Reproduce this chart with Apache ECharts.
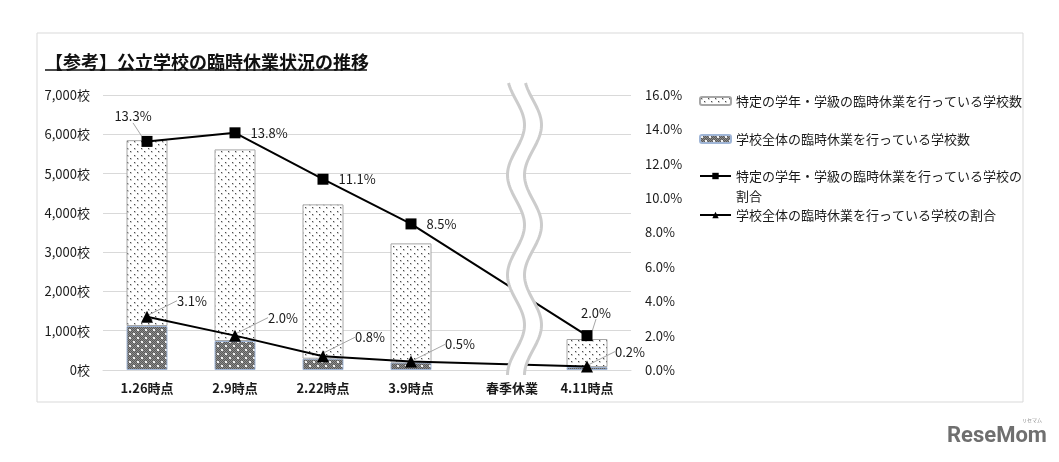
<!DOCTYPE html>
<html>
<head>
<meta charset="utf-8">
<script src="https://cdn.jsdelivr.net/npm/echarts@6/dist/echarts.min.js"></script>
<style>
html,body{margin:0;padding:0;background:#fff;}
#chart{width:1059px;height:462px;}
</style>
</head>
<body>
<div id="chart"></div>
<script>
// ---- data ----
const categories = ['1.26時点', '2.9時点', '2.22時点', '3.9時点', '春季休業', '4.11時点'];
const wholeSchoolCount = [1120, 738, 288, 190, null, 75];
const partialSchoolCount = [4730, 4877, 3928, 3033, null, 714];
const partialRate = [13.3, 13.8, 11.1, 8.5, null, 2.0];
const wholeRate = [3.1, 2.0, 0.8, 0.5, null, 0.2];
const countAxisMax = 7000, countAxisStep = 1000;
const rateAxisMax = 16, rateAxisStep = 2;

const nameP = '特定の学年・学級の臨時休業を行っている学校数';
const nameW = '学校全体の臨時休業を行っている学校数';
const nameRP = '特定の学年・学級の臨時休業を行っている学校の割合';
const nameRW = '学校全体の臨時休業を行っている学校の割合';

// label layout offsets (style, not data)
const sqOffsets = [[-14, -5], [2, 0], [2, 0], [2, 0], null, [9, -3]];
const sqPos = ['top', 'right', 'right', 'right', 'right', 'top'];
const sqGuide = [true, false, false, false, false, true];
const triOffsets = [[19, -16], [22, -18], [21, -19], [23, -17], null, [17, -15]];

const FONT = '"Noto Sans CJK JP", "Noto Sans", sans-serif';
const TXT = '#1a1a1a';

function dotPattern() {
  const c = document.createElement('canvas');
  c.width = 7; c.height = 7;
  const g = c.getContext('2d');
  g.fillStyle = '#ffffff'; g.fillRect(0, 0, 7, 7);
  g.fillStyle = '#d0d0d0';
  g.fillRect(1, 1, 2, 2);
  g.fillRect(4, 4, 2, 2);
  g.fillStyle = '#4a4a4a';
  g.fillRect(1, 1, 1, 1);
  g.fillRect(4, 4, 1, 1);
  return c;
}
function darkPattern() {
  const c = document.createElement('canvas');
  c.width = 8; c.height = 8;
  const g = c.getContext('2d');
  for (let x = 0; x < 8; x++) for (let y = 0; y < 8; y++) {
    g.fillStyle = ((x + y) % 2 === 0) ? '#595959' : '#8c8c8c';
    g.fillRect(x, y, 1, 1);
  }
  g.fillStyle = '#f2f2f2';
  g.fillRect(1, 1, 2, 2);
  g.fillRect(5, 5, 2, 2);
  return c;
}

const chart = echarts.init(document.getElementById('chart'), null, {renderer: 'canvas'});

const legendBase = {
  orient: 'vertical', left: 694, itemWidth: 31, itemHeight: 8, itemGap: 10,
  selectedMode: false,
  textStyle: {fontFamily: FONT, fontSize: 13, color: TXT, lineHeight: 20}
};

const option = {
  backgroundColor: '#fff',
  animation: false,
  textStyle: {fontFamily: FONT},
  title: {
    text: '【参考】公立学校の臨時休業状況の推移',
    left: 40, top: 48,
    textStyle: {fontFamily: FONT, fontSize: 18, fontWeight: 'bold', color: '#111'}
  },
  legend: [
    Object.assign({}, legendBase, {top: 86, data: [nameP]}),
    Object.assign({}, legendBase, {top: 124, data: [nameW]}),
    Object.assign({}, legendBase, {top: 141, data: [nameRP],
      formatter: () => ' \n特定の学年・学級の臨時休業を行っている学校の\n割合'}),
    Object.assign({}, legendBase, {top: 200, data: [nameRW]})
  ],
  grid: {left: 103, right: 428, top: 95, bottom: 92},
  xAxis: {
    type: 'category', data: categories,
    axisLine: {show: true, lineStyle: {color: '#d9d9d9', width: 1}},
    axisTick: {show: false},
    axisLabel: {
      margin: 12, fontSize: 13, fontWeight: 'bold', color: TXT, fontFamily: FONT,
      interval: 0,
      formatter: v => v === '春季休業' ? '{s|' + v + '}' : v,
      rich: {s: {padding: [0, 0, 0, 26], fontSize: 13, fontWeight: 'bold', color: TXT, fontFamily: FONT}}
    }
  },
  yAxis: [
    {
      type: 'value', min: 0, max: countAxisMax, interval: countAxisStep,
      axisLine: {show: false}, axisTick: {show: false},
      splitLine: {lineStyle: {color: '#d9d9d9', width: 1}},
      axisLabel: {margin: 13, fontSize: 13, color: TXT, fontFamily: FONT,
        formatter: v => v.toLocaleString('en-US') + '校'}
    },
    {
      type: 'value', min: 0, max: rateAxisMax, interval: rateAxisStep,
      axisLine: {show: false}, axisTick: {show: false}, splitLine: {show: false},
      axisLabel: {margin: 14, fontSize: 13, color: TXT, fontFamily: FONT,
        formatter: v => v.toFixed(1) + '%'}
    }
  ],
  series: [
    {
      name: nameW, type: 'bar', stack: 'count', barWidth: 41,
      data: wholeSchoolCount,
      itemStyle: {color: {image: darkPattern(), repeat: 'repeat'}, borderColor: '#9fb5d6', borderWidth: 1}
    },
    {
      name: nameP, type: 'bar', stack: 'count', barWidth: 41,
      data: partialSchoolCount,
      itemStyle: {color: {image: dotPattern(), repeat: 'repeat'}, borderColor: '#a6a6a6', borderWidth: 1}
    },
    {
      name: nameRP, type: 'line', yAxisIndex: 1, connectNulls: true,
      symbol: 'rect', symbolSize: 11, z: 5,
      lineStyle: {color: '#000', width: 2}, itemStyle: {color: '#000'},
      data: partialRate.map((v, i) => ({
        value: v,
        label: {position: sqPos[i]},
        labelLine: {show: sqGuide[i]}
      })),
      label: {show: true, fontSize: 13, color: TXT, fontFamily: FONT, distance: 8,
        formatter: p => p.value.toFixed(1) + '%'},
      labelLine: {show: false, lineStyle: {color: '#a6a6a6', width: 1}},
      labelLayout: p => { const o = sqOffsets[p.dataIndex]; return o ? {dx: o[0], dy: o[1]} : {}; }
    },
    {
      name: nameRW, type: 'line', yAxisIndex: 1, connectNulls: true,
      symbol: 'triangle', symbolSize: 12, z: 5,
      lineStyle: {color: '#000', width: 2}, itemStyle: {color: '#000'},
      data: wholeRate,
      label: {show: true, position: 'right', distance: 5, fontSize: 13, color: TXT, fontFamily: FONT,
        formatter: p => p.value.toFixed(1) + '%'},
      labelLine: {show: true, lineStyle: {color: '#a6a6a6', width: 1}},
      labelLayout: p => { const o = triOffsets[p.dataIndex]; return o ? {dx: o[0], dy: o[1]} : {}; }
    }
  ]
};
chart.setOption(option);

// decorations: frame, title underline, axis break band, watermark
const cx = chart.convertToPixel({xAxisIndex: 0}, '春季休業');
const yTopAxis = chart.convertToPixel({yAxisIndex: 0}, countAxisMax);
const yBotAxis = chart.convertToPixel({yAxisIndex: 0}, 0);
const yTop = yTopAxis - 12, yBot = yBotAxis + 5;
const left = [], right = [];
for (let y = yTop; y <= yBot + 0.01; y += 2) {
  const x = cx + 17 + 8.5 * Math.cos(2 * Math.PI * (y - (yTop + 42)) / 100);
  left.push([x, y]);
  right.push([x + 17, y]);
}
const poly = left.concat(right.slice().reverse());

chart.setOption({
  graphic: [
    {type: 'rect', z: -10, silent: true, shape: {x: 37, y: 33, width: 986, height: 369},
      style: {fill: 'none', stroke: '#d9d9d9', lineWidth: 1}},
    {type: 'line', z: 10, silent: true, shape: {x1: 45, y1: 70, x2: 367, y2: 70},
      style: {stroke: '#111', lineWidth: 1.5}},
    {type: 'polygon', z: 100, silent: true, shape: {points: poly}, style: {fill: '#ffffff'}},
    {type: 'polyline', z: 101, silent: true, shape: {points: left}, style: {stroke: '#cccccc', lineWidth: 3, fill: null}},
    {type: 'polyline', z: 101, silent: true, shape: {points: right}, style: {stroke: '#cccccc', lineWidth: 3, fill: null}},
    {type: 'text', z: 10, silent: true, x: 947, y: 425,
      style: {text: 'ReseMom', fill: '#6f6f6f', font: 'bold 22px Roboto, "Noto Sans", sans-serif'}},
    {type: 'text', z: 10, silent: true, x: 1022, y: 418,
      style: {text: 'リセマム', fill: '#8a8a8a', font: '5px "Noto Sans CJK JP", sans-serif'}}
  ]
});
</script>
</body>
</html>
